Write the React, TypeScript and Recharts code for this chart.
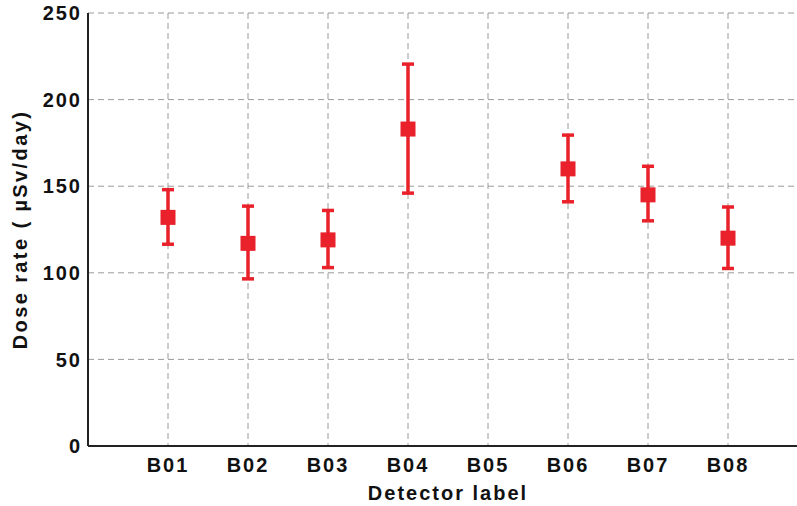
import React from 'react';
import {
    CartesianGrid,
    ErrorBar,
    Scatter,
    ScatterChart,
    XAxis,
    YAxis
} from 'recharts';

// detector labels and measured dose rate (µSv/day), B05 has no reading
const detectors = ['B01', 'B02', 'B03', 'B04', 'B05', 'B06', 'B07', 'B08'];
const doseRate = [132, 117, 119, 183, null, 160, 145, 120];
const doseLow = [116.5, 96.5, 103, 146, null, 141, 130, 102.5];
const doseHigh = [148, 138.5, 136, 220.5, null, 179.5, 161.5, 138];
const xTicks = [1, 2, 3, 4, 5, 6, 7, 8];
const yTicks = [0, 50, 100, 150, 200, 250];

const RED = '#e8212a';
const AXIS = '#222';
const FONT = '"Liberation Sans", Arial, sans-serif';

const data = detectors
    .map((name, i) => {
        const v = doseRate[i];
        if (v === null) return null;
        return {
            name,
            pos: i + 1,
            dose: v,
            err: [v - (doseLow[i] as number), (doseHigh[i] as number) - v]
        };
    })
    .filter(Boolean);

const SquareMarker = (props: any) => {
    const { cx, cy } = props;
    return <rect x={cx - 7.5} y={cy - 7.5} width={15} height={15} fill={RED} />;
};

const tickStyle = {
    fontFamily: FONT,
    fontSize: 20,
    fontWeight: 700,
    fill: '#111',
    letterSpacing: 2
};

export default function App() {
    return (
        <div
            style={{
                position: 'absolute',
                left: 0,
                top: 0,
                width: 797,
                height: 506,
                overflow: 'hidden',
                background: '#fff'
            }}
        >
            <ScatterChart width={830} height={506} margin={{ top: 13, right: 22, left: 0, bottom: 0 }}>
                <CartesianGrid stroke="#9a9a9a" strokeDasharray="6 4" strokeWidth={1} />
                {/* inward tick marks on the bottom and left spines */}
                <XAxis
                    xAxisId="bin"
                    type="number"
                    dataKey="pos"
                    domain={[0, 9]}
                    ticks={xTicks}
                    orientation="bottom"
                    mirror
                    height={0}
                    tick={false}
                    axisLine={false}
                    tickSize={6}
                    tickLine={{ stroke: AXIS, strokeWidth: 2 }}
                />
                <XAxis
                    xAxisId="top"
                    type="number"
                    dataKey="pos"
                    domain={[0, 9]}
                    ticks={xTicks}
                    orientation="top"
                    mirror
                    height={0}
                    tick={false}
                    tickSize={6}
                    axisLine={{ stroke: AXIS, strokeWidth: 2 }}
                    tickLine={{ stroke: AXIS, strokeWidth: 2 }}
                />
                <XAxis
                    type="number"
                    dataKey="pos"
                    domain={[0, 9]}
                    ticks={xTicks}
                    height={60}
                    tickFormatter={(v) => detectors[v - 1]}
                    tick={tickStyle}
                    tickLine={false}
                    tickSize={0}
                    tickMargin={12}
                    axisLine={{ stroke: AXIS, strokeWidth: 2 }}
                    label={{
                        content: (p: any) => {
                            const vb = p.viewBox;
                            return (
                                <text
                                    x={vb.x + vb.width / 2}
                                    y={vb.y + 54}
                                    textAnchor="middle"
                                    style={{ ...tickStyle }}
                                >
                                    Detector label
                                </text>
                            );
                        }
                    }}
                />
                <YAxis
                    yAxisId="in"
                    type="number"
                    domain={[0, 250]}
                    ticks={yTicks}
                    mirror
                    width={0}
                    tick={false}
                    axisLine={false}
                    tickSize={6}
                    tickLine={{ stroke: AXIS, strokeWidth: 2 }}
                />
                <YAxis
                    type="number"
                    dataKey="dose"
                    domain={[0, 250]}
                    ticks={yTicks}
                    width={88}
                    tick={tickStyle}
                    tickLine={false}
                    tickSize={0}
                    tickMargin={6}
                    axisLine={{ stroke: AXIS, strokeWidth: 2 }}
                    label={{
                        content: (p: any) => {
                            const vb = p.viewBox;
                            const cx = vb.x + 20;
                            const cy = vb.y + vb.height / 2;
                            return (
                                <text
                                    x={cx}
                                    y={cy}
                                    textAnchor="middle"
                                    dominantBaseline="central"
                                    transform={`rotate(-90 ${cx} ${cy})`}
                                    style={{ ...tickStyle, letterSpacing: 2.4 }}
                                >
                                    Dose rate ( µSv/day)
                                </text>
                            );
                        }
                    }}
                />
                <Scatter data={data} fill={RED} shape={SquareMarker} isAnimationActive={false}>
                    <ErrorBar dataKey="err" direction="y" width={6} stroke={RED} strokeWidth={3.5} />
                </Scatter>
            </ScatterChart>
        </div>
    );
}
